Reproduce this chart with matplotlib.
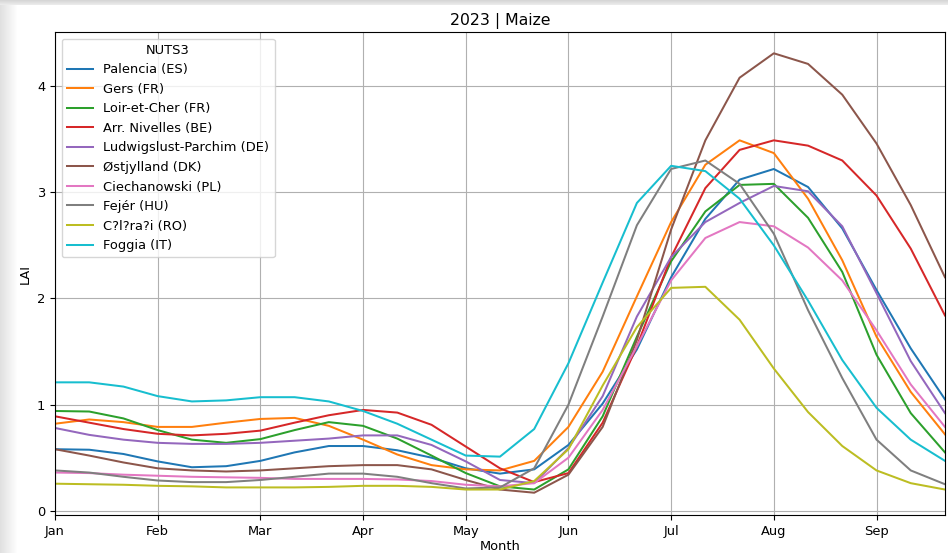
import numpy as np
import matplotlib.pyplot as plt

# dekadal LAI values, 2023 maize season (Jan 1st dekad .. Sep 3rd dekad)
palencia = [0.58, 0.575, 0.535, 0.465, 0.41, 0.42, 0.47, 0.55, 0.61, 0.61, 0.57, 0.50, 0.40, 0.35,
            0.39, 0.62, 1.01, 1.52, 2.20, 2.75, 3.12, 3.22, 3.05, 2.66, 2.08, 1.53, 1.05]
gers = [0.82, 0.86, 0.835, 0.79, 0.79, 0.83, 0.865, 0.875, 0.80, 0.67, 0.53, 0.43, 0.39, 0.38,
        0.47, 0.79, 1.31, 2.02, 2.72, 3.26, 3.49, 3.37, 2.94, 2.36, 1.64, 1.12, 0.72]
loir_et_cher = [0.94, 0.935, 0.87, 0.76, 0.67, 0.64, 0.675, 0.76, 0.835, 0.80, 0.68, 0.52, 0.355, 0.23,
                0.20, 0.39, 0.89, 1.64, 2.35, 2.82, 3.07, 3.08, 2.76, 2.25, 1.47, 0.92, 0.55]
nivelles = [0.89, 0.83, 0.77, 0.725, 0.71, 0.725, 0.755, 0.83, 0.90, 0.95, 0.925, 0.81, 0.605, 0.40,
            0.27, 0.355, 0.83, 1.55, 2.39, 3.04, 3.40, 3.49, 3.44, 3.30, 2.97, 2.47, 1.84]
ludwigslust = [0.78, 0.715, 0.67, 0.64, 0.63, 0.63, 0.64, 0.66, 0.68, 0.71, 0.71, 0.62, 0.465, 0.29,
               0.26, 0.59, 1.08, 1.83, 2.39, 2.72, 2.90, 3.06, 3.01, 2.68, 2.05, 1.41, 0.92]
ostjylland = [0.58, 0.52, 0.455, 0.40, 0.38, 0.37, 0.38, 0.40, 0.42, 0.43, 0.43, 0.39, 0.29, 0.20,
              0.17, 0.34, 0.79, 1.61, 2.65, 3.49, 4.08, 4.31, 4.21, 3.92, 3.46, 2.88, 2.20]
ciechanowski = [0.36, 0.355, 0.34, 0.33, 0.32, 0.315, 0.31, 0.30, 0.30, 0.30, 0.295, 0.28, 0.245, 0.23,
                0.26, 0.50, 0.95, 1.55, 2.17, 2.57, 2.72, 2.68, 2.48, 2.17, 1.70, 1.19, 0.79]
fejer = [0.38, 0.36, 0.32, 0.285, 0.27, 0.27, 0.29, 0.32, 0.35, 0.35, 0.32, 0.26, 0.21, 0.22,
         0.40, 1.00, 1.83, 2.69, 3.22, 3.30, 3.08, 2.61, 1.89, 1.25, 0.67, 0.38, 0.25]
calarasi = [0.255, 0.25, 0.245, 0.235, 0.23, 0.22, 0.22, 0.22, 0.225, 0.235, 0.235, 0.225, 0.20, 0.20,
            0.28, 0.58, 1.18, 1.73, 2.10, 2.11, 1.80, 1.34, 0.93, 0.61, 0.38, 0.26, 0.20]
foggia = [1.21, 1.21, 1.17, 1.08, 1.03, 1.04, 1.07, 1.07, 1.03, 0.94, 0.82, 0.67, 0.52, 0.51,
          0.77, 1.39, 2.15, 2.90, 3.25, 3.20, 2.94, 2.50, 1.98, 1.42, 0.97, 0.67, 0.47]

regions = ['Palencia (ES)', 'Gers (FR)', 'Loir-et-Cher (FR)', 'Arr. Nivelles (BE)',
           'Ludwigslust-Parchim (DE)', 'Østjylland (DK)', 'Ciechanowski (PL)',
           'Fejér (HU)', 'C?l?ra?i (RO)', 'Foggia (IT)']
series = [palencia, gers, loir_et_cher, nivelles, ludwigslust, ostjylland,
          ciechanowski, fejer, calarasi, foggia]
months = ['Jan', 'Feb', 'Mar', 'Apr', 'May', 'Jun', 'Jul', 'Aug', 'Sep']

dekad = np.arange(len(palencia))

plt.rcParams['font.size'] = 9.4

fig = plt.figure(figsize=(9.48, 5.53), dpi=100)
ax = fig.add_axes([0.058, 0.0687, 0.9388, 0.8733])

for name, vals in zip(regions, series):
    ax.plot(dekad, vals, label=name, linewidth=1.45)

ax.set_xlim(0, len(dekad) - 1)
ax.set_ylim(-0.04, 4.51)
ax.set_xticks(np.arange(0, len(dekad), 3))
ax.set_xticklabels(months)
ax.set_yticks([0, 1, 2, 3, 4])
ax.grid(True)
ax.set_xlabel('Month', labelpad=1.5)
ax.set_ylabel('LAI')
ax.set_title('2023 | Maize', fontsize=11.3, pad=5)
ax.legend(title='NUTS3', loc='upper left')

# light frame shading along the top and left edges
W, H = 948, 553
top = np.ones((5, W, 4))
top[..., :3] = np.linspace(0.84, 0.92, 5)[:, None, None]
left = np.ones((H - 5, 18, 4))
left[..., :3] = np.linspace(0.88, 1.0, 18)[None, :, None]
fig.figimage(left, xo=0, yo=0, origin='upper')
fig.figimage(top, xo=0, yo=H - 5, origin='upper')

fig.savefig('out.png', dpi=100)
